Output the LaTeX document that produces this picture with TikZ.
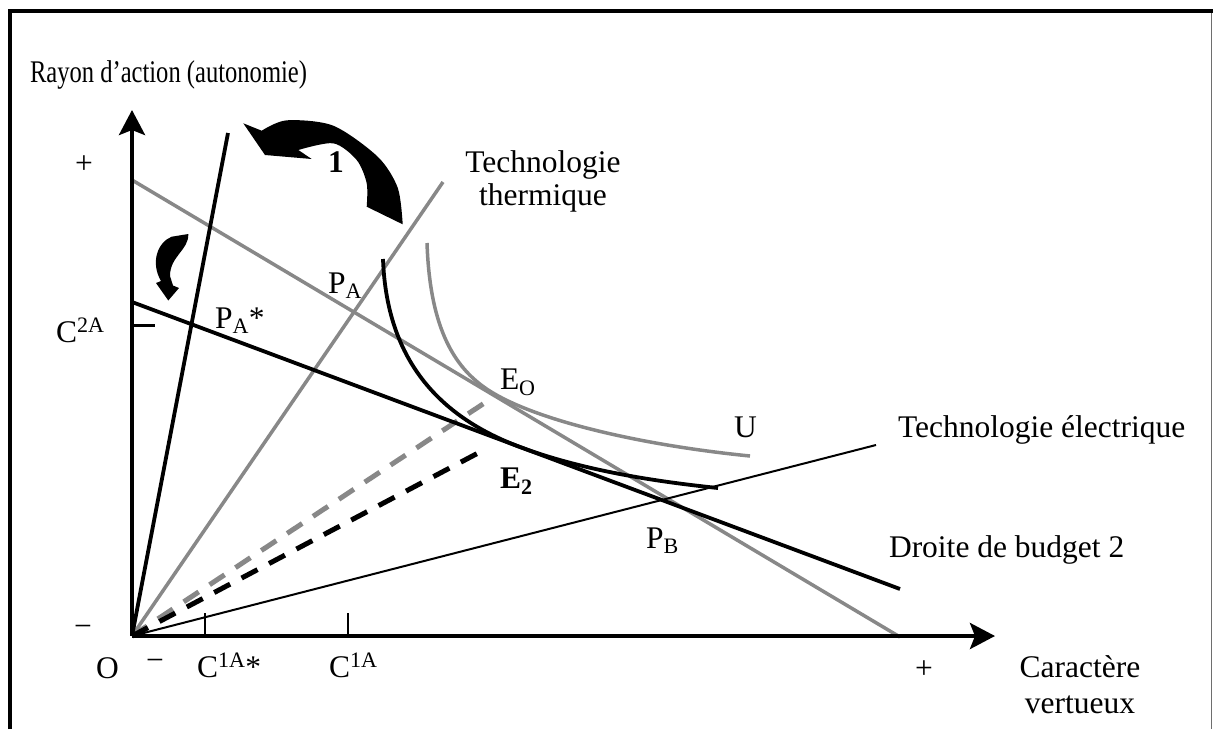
\documentclass[tikz,border=0pt]{standalone}
\usepackage{fontspec}
\usepackage{graphicx}
\setmainfont{Liberation Serif}
\usetikzlibrary{arrows.meta}
\definecolor{lg}{RGB}{136,136,136}
\definecolor{fr}{RGB}{110,110,110}
\tikzset{
  lab/.style={font=\fontsize{31.5}{36}\selectfont, inner sep=0pt, outer sep=0pt},
  axisarrow/.style={line width=4pt, -{Stealth[length=25pt,width=26pt,inset=5pt]}},
  blackline/.style={line width=3.8pt},
  grayline/.style={line width=3.5pt, draw=lg},
  thinline/.style={line width=2pt},
  dashline/.style={line width=5pt, dash pattern=on 18pt off 13pt},
  tickline/.style={line width=1.5pt},
  curvedarrow/.style={fill=black},
}
\begin{document}
\begin{tikzpicture}[x=1pt,y=-1pt]
\useasboundingbox (0,0) rectangle (1213,729);
% frame
\coordinate (f1) at (10,729); \coordinate (f2) at (10,11); \coordinate (f3) at (1213,11);
\draw[line width=4pt] (f1) -- (f2) -- (f3);
\coordinate (r1) at (1211.5,13); \coordinate (r2) at (1211.5,729);
\draw[fr, line width=1.5pt] (r1) -- (r2);

% key points
\coordinate (O) at (132,636);
\coordinate (Ytop) at (132,110);
\coordinate (Xend) at (995,636);
\coordinate (Th) at (443,182);
\coordinate (B1a) at (132,180); \coordinate (B1b) at (900,637);
\coordinate (Ua) at (427,243); \coordinate (Ut) at (493,393); \coordinate (Ub) at (750,456);
\coordinate (EOp) at (492,398);
\coordinate (E2p) at (480,452);
\coordinate (El) at (876,445);
\coordinate (St) at (228,133);
\coordinate (B2a) at (132,302); \coordinate (B2b) at (900,589);
\coordinate (Ka) at (383,259); \coordinate (Kt) at (520,447); \coordinate (Kb) at (718,488);
\coordinate (t2a) at (132,325); \coordinate (t2b) at (155,325);
\coordinate (t1sa) at (205,613); \coordinate (t1sb) at (205,636);
\coordinate (t1a) at (348,613); \coordinate (t1b) at (348,636);

% gray elements
\draw[grayline] (O) -- (Th);
\draw[grayline] (B1a) -- (B1b);
\draw[grayline] (Ua) .. controls (430,330) and (455,370.4) .. (Ut) .. controls (540,421) and (640,445) .. (Ub);
\draw[dashline, draw=lg] (O) -- (EOp);

% black elements
\draw[dashline] (O) -- (E2p);
\draw[thinline] (O) -- (El);
\draw[blackline] (O) -- (St);
\draw[blackline] (B2a) -- (B2b);
\draw[blackline] (Ka) .. controls (387,370) and (450,420.8) .. (Kt) .. controls (580,469.4) and (650,481) .. (Kb);
\draw[line width=3pt] (t2a) -- (t2b);
\draw[tickline] (t1sa) -- (t1sb);
\draw[tickline] (t1a) -- (t1b);

% axes
\draw[axisarrow] (O) -- (Ytop);
\draw[axisarrow] (O) -- (Xend);

% big curved arrow "1"
\fill[curvedarrow] (243.3,123.3) -- (261.7,130.7)
  -- plot[smooth] coordinates {(261.7,130.7) (286.7,120.3) (333.3,125.7) (377.7,156.7) (397.7,187.7) (402.7,224.3)}
  -- (366.7,206.7)
  -- plot[smooth] coordinates {(366.7,206.7) (366.7,183.3) (356.7,160) (333.3,143.3) (298.3,150)}
  -- (311.7,159) -- (265,155) -- cycle;

% small curved arrow
\fill[curvedarrow] (188.3,234) -- (171.7,236.7)
  .. controls (158,242) and (150,262) .. (161,281)
  -- (156,283) -- (168.3,300.5) -- (179,288) -- (173,285.5)
  -- (170,276) .. controls (170,256) and (189,250) .. (188.3,234) -- cycle;

% labels
\node[lab, anchor=base west] (title) at (30,82) {\scalebox{0.78}[1]{Rayon d’action (autonomie)}};
\node[lab] (yplus) at (84,165) {+};
\node[lab, anchor=base west] (c2a) at (56,342) {C\textsuperscript{2A}};
\node[lab] (yminus) at (83,631) {−};
\node[lab, anchor=base west] (o) at (96,678) {O};
\node[lab] (xminus) at (155,665) {−};
\node[lab, anchor=base west] (c1as) at (197,677) {C\textsuperscript{1A}*};
\node[lab, anchor=base west] (c1a) at (329,677) {C\textsuperscript{1A}};
\node[lab] (xplus) at (924,670) {+};
\node[lab, anchor=north, align=center] (cv) at (1080,655.5) {Caractère\\vertueux};
\node[lab, anchor=base west] (te) at (898,437) {Technologie électrique};
\node[lab, anchor=base west] (u) at (734,437) {U};
\node[lab, anchor=base west] (db) at (889,557) {Droite de budget 2};
\node[lab, anchor=base west] (pb) at (646,548) {P\textsubscript{B}};
\node[lab, anchor=base west] (pa) at (328,293) {P\textsubscript{A}};
\node[lab, anchor=base west] (pas) at (215,328) {P\textsubscript{A}*};
\node[lab, anchor=base west] (eo) at (500,389) {E\textsubscript{O}};
\node[lab, anchor=base west] (e2) at (500,488) {\textbf{E\textsubscript{2}}};
\node[lab, anchor=base west] (one) at (328,172) {\textbf{1}};
\node[lab, anchor=north, align=center, font=\fontsize{31.5}{33}\selectfont] (tt) at (543,151) {Technologie\\thermique};
\end{tikzpicture}
\end{document}
